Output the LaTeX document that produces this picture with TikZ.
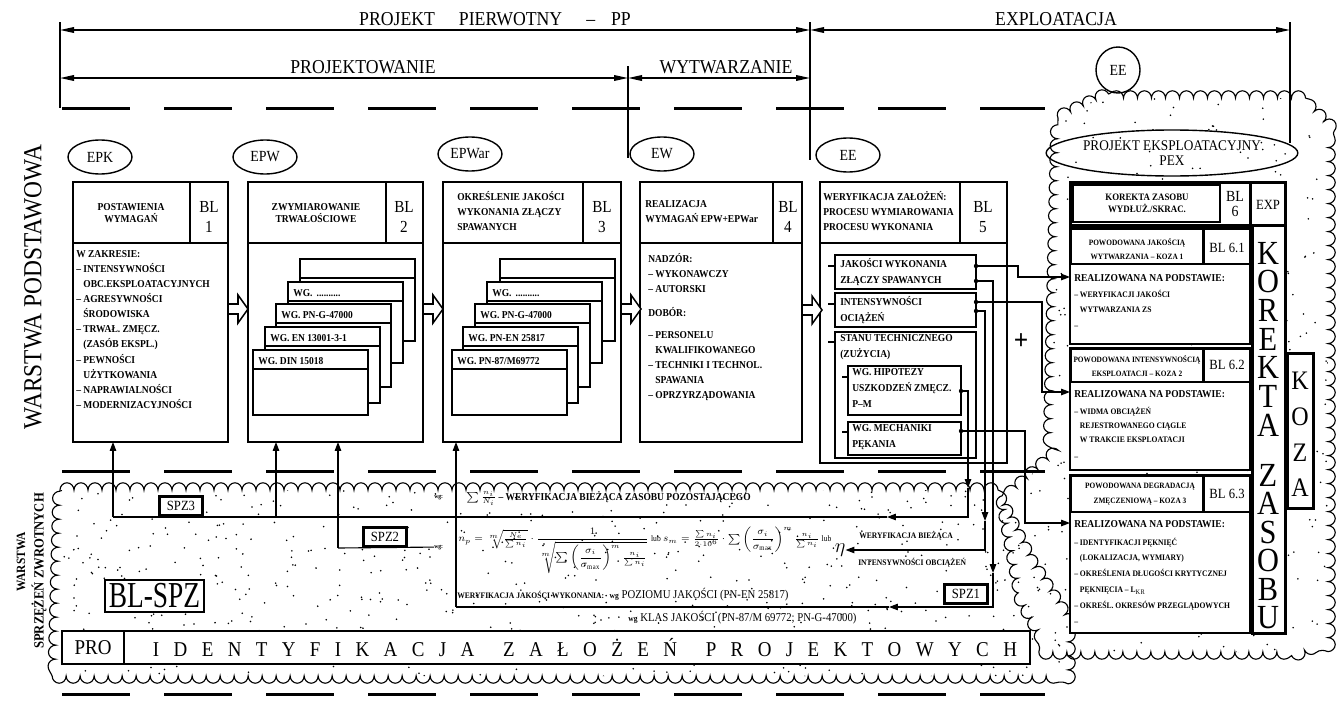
\documentclass[tikz,border=0pt]{standalone}
\usepackage{amsmath}
\usepackage{fontspec}
\setmainfont[FakeStretch=0.9]{Liberation Serif}
\newfontfamily\narrowfont[FakeStretch=0.75]{Liberation Serif}
\usetikzlibrary{positioning,arrows.meta,shapes.geometric,decorations.pathmorphing}

\tikzset{
  fine/.style={line width=0.28mm},
  boxline/.style={line width=0.38mm},
  heavy/.style={line width=0.75mm},
  dashrule/.style={line width=0.75mm, dash pattern=on 17mm off 8.5mm},
  cloudline/.style={fine, decorate, decoration={bumps, segment length=7mm, amplitude=1.8mm}},
  span/.style={boxline, {Triangle[length=3.5mm,width=1.4mm]}-{Triangle[length=3.5mm,width=1.4mm]}},
  oval/.style={draw, ellipse, line width=0.35mm, minimum width=16mm, minimum height=8.5mm, inner sep=0pt, font=\fontsize{11}{12}\selectfont},
  ttl/.style={inner sep=0pt, font=\fontsize{14}{15}\selectfont},
  % multi-line text placed by the baseline of its first line
  firstline/.style={inner sep=0pt, align=left, anchor=north west, yshift=#1,
    execute at begin node={\rule{0pt}{#1}}},
  hdr/.style={inner sep=0pt, align=center, font=\bfseries\fontsize{7.5}{8.8}\selectfont},
  hdrl/.style={firstline=7.5pt, font=\bfseries\fontsize{7.5}{10.4}\selectfont},
  body/.style={firstline=7.5pt, font=\bfseries\fontsize{7.5}{10.7}\selectfont},
  bodyin/.style={firstline=7.5pt, font=\bfseries\fontsize{7.5}{11.3}\selectfont},
  bl/.style={inner sep=0pt, align=center, font=\fontsize{12}{14.5}\selectfont},
  card/.style={inner sep=0pt, anchor=base west, font=\bfseries\fontsize{7.5}{9}\selectfont},
  pexhdr/.style={inner sep=0pt, align=center, font=\bfseries\fontsize{5.8}{10.5}\selectfont},
  pexbl/.style={inner sep=0pt, font=\fontsize{10}{11}\selectfont},
  pexbody/.style={firstline=6pt, font=\bfseries\fontsize{6}{11.3}\selectfont},
  pexlead/.style={inner sep=0pt, anchor=base west, font=\bfseries\fontsize{7.5}{8}\selectfont},
  bigletter/.style={inner sep=0pt, font=\fontsize{24}{24}\selectfont},
  spz/.style={draw, line width=0.55mm, fill=white, minimum width=10.75mm, minimum height=4.75mm, inner sep=0pt, font=\fontsize{10}{10}\selectfont},
  small/.style={inner sep=0pt, anchor=base west, font=\bfseries\fontsize{6}{7}\selectfont},
}

% open block arrow between two stage boxes: x, y
\newcommand\openarrow[2]{%
  \draw[boxline, fill=white] ({#1},{#2-5}) -- ++(10,0) -- ++(0,-9) -- ++(10,14)
    -- ++(-10,14) -- ++(0,-9) -- ++(-10,0) -- cycle;}
% one card of a stack: name, x, top, bottom, label
\newcommand\stackcard[5]{%
  \draw[boxline, fill=white] (#2,#3) rectangle ({#2+115},#4);
  \draw[boxline] (#2,{#3+19}) -- ({#2+115},{#3+19});
  \node[card] (#1) at ({#2+5},{#3+14}) {#5};}

\begin{document}
\begin{tikzpicture}[x=0.25mm, y=-0.25mm, >={Triangle[length=2.2mm,width=1.6mm]}]
\useasboundingbox (0,0) rectangle (1337,702);

% stipple and clouds
\pgfmathsetseed{4242}
\begin{scope}
  \clip (60,490) -- (995,490) -- (1030,560) -- (1068,620) -- (1068,676) -- (55,676) -- cycle;
  \foreach \k in {1,...,650} {\fill ({50+1025*rnd},{485+195*rnd}) circle (0.22mm);}
\end{scope}
\begin{scope}
  \clip (1058,118) -- (1100,98) -- (1300,98) -- (1328,125) -- (1328,640) -- (1300,652)
    -- (1050,652) -- (1022,600) -- (1003,500) -- (1050,458) -- cycle;
  \foreach \k in {1,...,420} {\fill ({1000+330*rnd},{95+560*rnd}) circle (0.22mm);}
\end{scope}
\draw[cloudline] (60,490) -- (995,490) -- (1030,560) -- (1068,620) -- (1068,676) -- (55,676) -- cycle;
\draw[cloudline] (1058,118) -- (1100,98) -- (1300,98) -- (1328,125) -- (1328,640) -- (1300,652)
    -- (1050,652) -- (1022,600) -- (1003,500) -- (1050,458) -- cycle;

% dashed layer rules
\foreach \yy in {108,471,694} \draw[dashrule] (62,\yy) -- (1045,\yy);

% phase spans
\coordinate (hL) at (60,30);
\coordinate (hM) at (810,30);
\coordinate (hR) at (1290,30);
\coordinate (sL) at (60,78);
\coordinate (sM) at (628,78);
\coordinate (sR) at (810,78);
\draw[span] (hL) -- (hM);
\draw[span] (hM) -- (hR);
\draw[span] (sL) -- (sM);
\draw[span] (sM) -- (sR);
\draw[fine] (60,22) -- (60,108) (810,22) -- (810,160) (628,66) -- (628,158) (1290,22) -- (1290,143);
\node[ttl] (pp) at (495,19) {PROJEKT\hspace{6mm}PIERWOTNY\hspace{6mm}–\hspace{4mm}PP};
\node[ttl] (expl) at (1056,19) {EXPLOATACJA};
\node[ttl] (proj) at (363,67) {PROJEKTOWANIE};
\node[ttl] (wytw) at (726,67) {WYTWARZANIE};

% layer names
\node[rotate=90, inner sep=0pt, font=\fontsize{18.5}{19}\selectfont] (wpod) at (33,287) {WARSTWA PODSTAWOWA};
\node[rotate=90, inner sep=0pt, font=\bfseries\fontsize{9}{10}\selectfont] (wspz1) at (21,562) {WARSTWA};
\node[rotate=90, inner sep=0pt, font=\bfseries\fontsize{10}{11}\selectfont] (wspz2) at (39,571) {SPRZĘŻEŃ ZWROTNYCH};

% stage labels
\node[oval] (epk) at (100,157) {EPK};
\node[oval] (epw) at (265,157) {EPW};
\node[oval] (epwar) at (470,154) {EPWar};
\node[oval] (ew) at (662,154) {EW};
\node[oval] (ee) at (848,155) {EE};
\node[oval, minimum width=11mm, minimum height=11.5mm] (eetop) at (1118,70) {EE};

% BL 1
\draw[boxline, fill=white] (73,182) rectangle (228,442);
\draw[boxline] (73,243) -- (228,243) (190,182) -- (190,243);
\node[hdr] (h1) at (131,213) {POSTAWIENIA\\WYMAGAŃ};
\node[bl] (bl1) at (209,217) {BL\\1};
\node[body] (t1) at (76,261) {W ZAKRESIE:\\– INTENSYWNOŚCI\\\hphantom{– }OBC.EKSPLOATACYJNYCH\\– AGRESYWNOŚCI\\\hphantom{– }ŚRODOWISKA\\– TRWAŁ. ZMĘCZ.\\\hphantom{– }(ZASÓB EKSPL.)\\– PEWNOŚCI\\\hphantom{– }UŻYTKOWANIA\\– NAPRAWIALNOŚCI\\– MODERNIZACYJNOŚCI};

% BL 2
\draw[boxline, fill=white] (248,182) rectangle (423,442);
\draw[boxline] (248,243) -- (423,243) (386,182) -- (386,243);
\node[hdr] (h2) at (316,213) {ZWYMIAROWANIE\\TRWAŁOŚCIOWE};
\node[bl] (bl2) at (404,217) {BL\\2};
\stackcard{w25}{300}{259}{341}{}
\stackcard{w24}{288}{282}{363}{WG. \,..........}
\stackcard{w23}{276}{304}{387}{WG. PN-G-47000}
\stackcard{w22}{265}{327}{403}{WG. EN 13001-3-1}
\stackcard{w21}{253}{350}{415}{WG. DIN 15018}

% BL 3
\draw[boxline, fill=white] (443,182) rectangle (621,442);
\draw[boxline] (443,243) -- (621,243) (583,182) -- (583,243);
\node[hdrl] (h3) at (457,202) {OKREŚLENIE JAKOŚCI\\WYKONANIA ZŁĄCZY\\SPAWANYCH};
\node[bl] (bl3) at (602,217) {BL\\3};
\stackcard{j25}{500}{259}{341}{}
\stackcard{j24}{487}{282}{363}{WG. \,..........}
\stackcard{j23}{475}{304}{387}{WG. PN-G-47000}
\stackcard{j22}{463}{327}{403}{WG. PN-EN 25817}
\stackcard{j21}{452}{350}{415}{WG. PN-87/M69772}

% BL 4
\draw[boxline, fill=white] (640,182) rectangle (802,442);
\draw[boxline] (640,243) -- (802,243) (773,182) -- (773,243);
\node[hdrl] (h4) at (645,211) {REALIZACJA\\WYMAGAŃ EPW+EPWar};
\node[bl] (bl4) at (788,217) {BL\\4};
\node[body] (t4) at (648,264) {NADZÓR:\\– WYKONAWCZY\\– AUTORSKI\\[6pt]DOBÓR:\\[5pt]– PERSONELU\\\hphantom{– }KWALIFIKOWANEGO\\– TECHNIKI I TECHNOL.\\\hphantom{– }SPAWANIA\\– OPRZYRZĄDOWANIA};

% BL 5
\draw[boxline, fill=white] (820,182) rectangle (1007,463);
\draw[boxline] (820,243) -- (1007,243) (960,182) -- (960,243);
\node[hdrl] (h5) at (823,202) {WERYFIKACJA ZAŁOŻEŃ:\\PROCESU WYMIAROWANIA\\PROCESU WYKONANIA};
\node[bl] (bl5) at (983,217) {BL\\5};
\draw[boxline] (835,255) rectangle (976,289) (835,293) rectangle (976,327)
  (835,332) rectangle (976,458) (848,366) rectangle (961,415) (848,422) rectangle (961,455);
\draw[boxline] (828,266) -- (835,266) (828,304) -- (835,304) (828,342) -- (835,342)
  (842,377) -- (848,377) (842,432) -- (848,432);
\node[bodyin] (v1) at (840,269) {JAKOŚCI WYKONANIA\\ZŁĄCZY SPAWANYCH};
\node[bodyin] (v2) at (840,307) {INTENSYWNOŚCI\\OCIĄŻEŃ};
\node[bodyin] (v3) at (840,345) {STANU TECHNICZNEGO\\(ZUŻYCIA)};
\node[bodyin] (v31) at (852,379) {WG. HIPOTEZY\\USZKODZEŃ ZMĘCZ.\\P–M};
\node[bodyin] (v32) at (852,435) {WG. MECHANIKI\\PĘKANIA};
\coordinate (pA1) at (976,266);
\coordinate (pA2) at (976,281);
\coordinate (pB1) at (976,302);
\coordinate (pB2) at (976,311);
\coordinate (pC1) at (961,391);
\coordinate (pC2) at (961,431);
\node[inner sep=0pt, font=\bfseries\fontsize{20}{20}\selectfont] (plus) at (1021,342) {+};

\openarrow{228}{309}
\openarrow{423}{309}
\openarrow{621}{309}
\openarrow{802}{310}

% exploitation project
\node[oval, minimum width=49.5mm, minimum height=11.5mm, align=center, font=\fontsize{10.5}{11}\selectfont] (pex) at (1172,153) {PROJEKT EKSPLOATACYJNY\\PEX};
\draw[heavy, fill=white] (1070,182) rectangle (1285,225);
\draw[fine] (1073,185) rectangle (1220,222);
\draw[heavy] (1250,182) -- (1250,225);
\node[hdr, font=\bfseries\fontsize{7}{8.5}\selectfont] (k6) at (1147,203) {KOREKTA ZASOBU\\WYDŁUŻ./SKRAC.};
\node[pexbl, align=center, font=\fontsize{11}{11}\selectfont] (bl6) at (1235,204) {BL\\6};
\node[pexbl] (exp) at (1268,205) {EXP};
\draw[heavy, fill=white] (1252,225) rectangle (1285,633);
\draw[heavy, fill=white] (1287,353) rectangle (1313,508);
\draw[heavy, fill=white] (1070,228) rectangle (1203,264) (1203,228) rectangle (1250,264);
\draw[heavy, fill=white] (1070,348) rectangle (1203,382) (1203,348) rectangle (1250,382);
\draw[heavy, fill=white] (1070,475) rectangle (1203,512) (1203,475) rectangle (1250,512);
\draw[boxline, fill=white] (1070,264) rectangle (1250,344);
\draw[boxline, fill=white] (1070,382) rectangle (1250,470);
\draw[boxline, fill=white] (1070,512) rectangle (1250,633);
\node[pexhdr] (k61) at (1137,249) {POWODOWANA JAKOŚCIĄ\\WYTWARZANIA – KOZA 1};
\node[pexhdr] (k62) at (1137,366) {POWODOWANA INTENSYWNOŚCIĄ\\EKSPLOATACJI – KOZA 2};
\node[pexhdr] (k63) at (1140,494) {POWODOWANA DEGRADACJĄ\\ZMĘCZENIOWĄ – KOZA 3};
\node[pexbl] (bl61) at (1227,248) {BL 6.1};
\node[pexbl] (bl62) at (1227,365) {BL 6.2};
\node[pexbl] (bl63) at (1227,494) {BL 6.3};
\node[pexlead] (r61) at (1074,281) {REALIZOWANA NA PODSTAWIE:};
\node[pexlead] (r62) at (1074,397) {REALIZOWANA NA PODSTAWIE:};
\node[pexlead] (r63) at (1074,527) {REALIZOWANA NA PODSTAWIE:};
\node[pexbody] (r61b) at (1074,298) {– WERYFIKACJI JAKOŚCI\\\hphantom{– }WYTWARZANIA ZS\\–};
\node[pexbody, font=\bfseries\fontsize{6}{10}\selectfont] (r62b) at (1074,415) {– WIDMA OBCIĄŻEŃ\\\hphantom{– }REJESTROWANEGO CIĄGLE\\\hphantom{– }W TRAKCIE EKSPLOATACJI\\[2pt]–};
\node[pexbody] (r63b) at (1074,546) {– IDENTYFIKACJI PĘKNIĘĆ\\\hphantom{– }(LOKALIZACJA, WYMIARY)\\– OKREŚLENIA DŁUGOŚCI KRYTYCZNEJ\\\hphantom{– }PĘKNIĘCIA – L$_{\mathrm{KR}}$\\– OKREŚL. OKRESÓW PRZEGLĄDOWYCH\\–};
\foreach \ch [count=\i] in {K,O,R,E,K,T,A}
  \node[bigletter] (kor\i) at (1268,{253+28.7*(\i-1)}) {\ch};
\foreach \ch [count=\i] in {Z,A,S,O,B,U}
  \node[bigletter] (zas\i) at (1268,{475+28.6*(\i-1)}) {\ch};
\foreach \ch [count=\i] in {K,O,Z,A}
  \node[bigletter, font=\fontsize{19}{19}\selectfont] (koza\i) at (1300,{381+35.7*(\i-1)}) {\ch};
\coordinate (in61) at (1070,277);
\coordinate (in62) at (1070,392);
\coordinate (in63) at (1070,523);

% feedback texts
\node[small, font=\bfseries\fontsize{4.5}{5}\selectfont] (wg1) at (434,498) {wg:};
\node[inner sep=0pt, anchor=base west, font=\bfseries\fontsize{7.5}{8}\selectfont] (sum1) at (466,500) {$\sum\frac{n_i}{N_i}$ – WERYFIKACJA BIEŻĄCA ZASOBU POZOSTAJĄCEGO};
\node[small, font=\bfseries\fontsize{4.5}{5}\selectfont] (wg2) at (434,548) {wg:};
\node[inner sep=0pt, anchor=west, font=\fontsize{7.5}{9}\selectfont] (np) at (458,550)
  {$n_p=\sqrt[m]{\tfrac{N_e}{\sum n_i}}\cdot\dfrac{1}{\sqrt[m]{\sum\left(\dfrac{\sigma_i}{\sigma_{\max}}\right)^{m}\tfrac{n_i}{\sum n_i}}}$ {\fontsize{6}{7}\selectfont lub} $s_m=\tfrac{\sum n_i}{2\cdot10^{6}}\cdot\sum\left(\dfrac{\sigma_i}{\sigma_{\max}}\right)^{m}\tfrac{n_i}{\sum n_i}$ {\fontsize{6}{7}\selectfont lub}};
\node[inner sep=0pt, right=2pt of np, font=\fontsize{14}{14}\selectfont] (eta) {$\eta$};
\node[small] (wbi1) at (859,538) {WERYFIKACJA BIEŻĄCA};
\node[small] (wbi2) at (858,565) {INTENSYWNOŚCI OBCIĄŻEŃ};
\node[inner sep=0pt, anchor=base west, font=\fontsize{8.5}{9}\selectfont] (wjw) at (457,598)
  {{\bfseries\fontsize{6}{7}\selectfont WERYFIKACJA JAKOŚCI WYKONANIA:}\ \ {\bfseries\fontsize{6}{7}\selectfont wg} POZIOMU JAKOŚCI (PN-EN 25817)};
\node[inner sep=0pt, anchor=base west, font=\fontsize{8.5}{9}\selectfont] (wkl) at (628,621)
  {{\bfseries\fontsize{6}{7}\selectfont wg} KLAS JAKOŚCI (PN-87/M 69772; PN-G-47000)};

% feedback paths
\coordinate (b1s) at (113,442);
\coordinate (b2s) at (276,442);
\coordinate (b2t) at (338,442);
\coordinate (b3s) at (456,442);
\coordinate (kL) at (113,517);
\coordinate (kS) at (338,548);
\coordinate (kQ) at (456,607);
\coordinate (aC1) at (968,488);
\coordinate (aL1) at (887,517);
\coordinate (aB2) at (985,521);
\coordinate (aA2) at (993,573);
\coordinate (aL3) at (889,607);
\draw[fine,->] (pA1) -- ++(42,0) |- (in61);
\draw[fine,->] (pB1) -- ++(66,0) |- (in62);
\draw[fine,->] (pC2) -- ++(64,0) |- (in63);
\draw[fine,->] (pC1) -| (aC1);
\draw[fine,->] (aC1) |- (aL1);
\draw[fine] (aL1) -- (kL);
\draw[fine,->] (kL) -- (b1s);
\draw[fine,->] (b2s |- kL) -- (b2s);
\draw[fine] (wg2.west) -- (kS);
\draw[fine,->] (kS) -- (b2t);
\draw[fine,->] (pB2) -| (aB2);
\draw[fine,->] (aB2) |- (eta.east);
\draw[fine,->] (pA2) -| (aA2);
\draw[fine,->] (aA2) |- (aL3);
\draw[fine] (aL3) -- (kQ);
\draw[fine,->] (kQ) -- (b3s);
\foreach \p in {pA1,pA2,pB1,pB2,pC1,pC2} \fill (\p) circle (0.55mm);

% feedback labels
\node[spz] (spz3) at (181,506) {SPZ3};
\node[spz] (spz2) at (385,537) {SPZ2};
\node[spz] (spz1) at (966,594) {SPZ1};
\node[draw, line width=0.6mm, fill=white, minimum width=24.75mm, minimum height=8mm, inner sep=0pt, font=\fontsize{26}{26}\narrowfont] (blspz) at (154.5,596) {BL-SPZ};
\draw[line width=0.6mm, fill=white] (62,631) rectangle (1030,664);
\draw[line width=0.6mm] (124,631) -- (124,664);
\node[inner sep=0pt, font=\fontsize{15}{15}\selectfont] (pro) at (93,648) {PRO};
\node[inner sep=0pt, font=\fontsize{15}{15}\selectfont] (ident) at (585,648)
  {\makebox[216mm]{I\hfill D\hfill E\hfill N\hfill T\hfill Y\hfill F\hfill I\hfill K\hfill A\hfill C\hfill J\hfill A\hfill\hfill Z\hfill A\hfill Ł\hfill O\hfill Ż\hfill E\hfill Ń\hfill\hfill P\hfill R\hfill O\hfill J\hfill E\hfill K\hfill T\hfill O\hfill W\hfill Y\hfill C\hfill H}};
\end{tikzpicture}
\end{document}
